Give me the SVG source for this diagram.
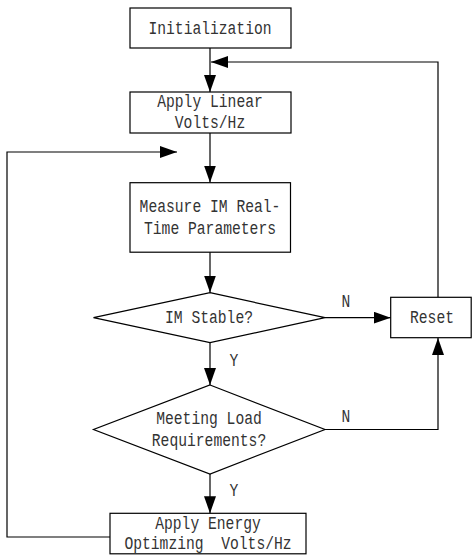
<svg xmlns="http://www.w3.org/2000/svg" width="472" height="555" viewBox="0 0 472 555">
<style>
.box{fill:#fff;stroke:#000;stroke-width:1.2}
.t{font-family:"Liberation Mono","DejaVu Sans Mono",monospace;font-size:18.5px;fill:#333;text-anchor:middle}
.c{fill:none;stroke:#000;stroke-width:1.2}
</style>
<defs>
<marker id="ah" markerUnits="userSpaceOnUse" markerWidth="17" markerHeight="12" refX="17" refY="6" orient="auto">
<path d="M0,0 L17,6 L0,12 z" fill="#000"/>
</marker>
</defs>
<g id="connectors">
<path class="c" d="M210,48 V92" marker-end="url(#ah)"/>
<path class="c" d="M438,297 V62 H211" marker-end="url(#ah)"/>
<path class="c" d="M210,133 V182.5" marker-end="url(#ah)"/>
<path class="c" d="M110,537 H7 V152 H177" marker-end="url(#ah)"/>
<path class="c" d="M210,252 V292.5" marker-end="url(#ah)"/>
<path class="c" d="M325,317.7 H390.7" marker-end="url(#ah)"/>
<path class="c" d="M210,342.7 V385" marker-end="url(#ah)"/>
<path class="c" d="M325,429.5 H438 V338" marker-end="url(#ah)"/>
<path class="c" d="M210,474 V513.3" marker-end="url(#ah)"/>
<text class="t" x="346" y="306.5" textLength="8.8" lengthAdjust="spacingAndGlyphs">N</text>
<text class="t" x="346" y="421.5" textLength="8.8" lengthAdjust="spacingAndGlyphs">N</text>
<text class="t" x="234" y="365.5" textLength="8.8" lengthAdjust="spacingAndGlyphs">Y</text>
<text class="t" x="234" y="495.5" textLength="8.8" lengthAdjust="spacingAndGlyphs">Y</text>
</g>
<g id="init">
<rect class="box" x="130" y="8" width="161" height="40"/>
<text class="t" x="210" y="34" textLength="123" lengthAdjust="spacingAndGlyphs">Initialization</text>
</g>
<g id="linear">
<rect class="box" x="130" y="92" width="161" height="41"/>
<text class="t" x="210" y="107" textLength="105.6" lengthAdjust="spacingAndGlyphs">Apply Linear</text>
<text class="t" x="210" y="128" textLength="70.4" lengthAdjust="spacingAndGlyphs">Volts/Hz</text>
</g>
<g id="measure">
<rect class="box" x="130" y="182.7" width="160.5" height="69.5"/>
<text class="t" x="210" y="212" textLength="140.8" lengthAdjust="spacingAndGlyphs">Measure IM Real-</text>
<text class="t" x="210" y="234" textLength="132" lengthAdjust="spacingAndGlyphs">Time Parameters</text>
</g>
<g id="stable">
<polygon class="box" points="210,292.7 325,317.7 210,342.7 93.5,317.7"/>
<text class="t" x="209" y="322.5" textLength="88" lengthAdjust="spacingAndGlyphs">IM Stable?</text>
</g>
<g id="reset">
<rect class="box" x="390.7" y="297.3" width="80.5" height="40.4"/>
<text class="t" x="432" y="322.5" textLength="44" lengthAdjust="spacingAndGlyphs">Reset</text>
</g>
<g id="load">
<polygon class="box" points="210,385 325,429.5 210,474 93.5,429.5"/>
<text class="t" x="209" y="424" textLength="105.6" lengthAdjust="spacingAndGlyphs">Meeting Load</text>
<text class="t" x="209" y="445.5" textLength="114.4" lengthAdjust="spacingAndGlyphs">Requirements?</text>
</g>
<g id="energy">
<rect class="box" x="110" y="513.3" width="196" height="40.5"/>
<text class="t" x="208" y="529" textLength="105.6" lengthAdjust="spacingAndGlyphs">Apply Energy</text>
<text class="t" x="208" y="549" textLength="167.2" lengthAdjust="spacingAndGlyphs" xml:space="preserve">Optimzing  Volts/Hz</text>
</g>
</svg>
